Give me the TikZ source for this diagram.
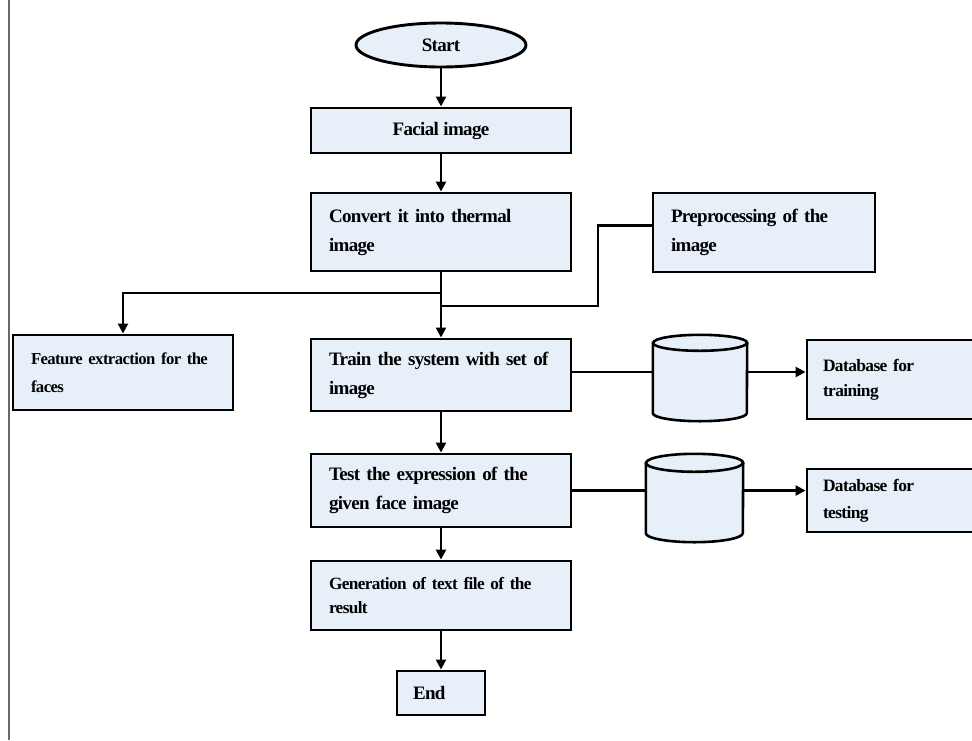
\documentclass[tikz,border=0pt]{standalone}
\usepackage{fontspec}
\setmainfont{Liberation Serif}[LetterSpace=-3.5,WordSpace=0.6]
\usetikzlibrary{shapes.geometric,arrows.meta,calc}
\definecolor{boxfill}{RGB}{231,240,249}
\definecolor{edgegray}{RGB}{105,105,105}
\begin{document}
\begin{tikzpicture}[x=1pt,y=1pt,
  mainfont/.style={font=\fontsize{19}{29}\selectfont\bfseries},
  smallfont/.style={font=\fontsize{17.4}{25}\selectfont\bfseries},
  box/.style={draw=black,line width=2.9pt,fill=boxfill,rectangle,inner sep=0pt,inner xsep=18pt,align=left},
  mainbox/.style={box,mainfont,text width=224pt},
  cylbox/.style={rectangle,draw=none,inner sep=0pt},
  cylline/.style={draw=black,line width=2.6pt,fill=boxfill},
  plain/.style={line width=2.4pt},
  conn/.style={line width=2.4pt,-{Triangle[length=10pt,width=10pt]}}
]
\path[use as bounding box,clip] (0,0) rectangle (972,-740);
\fill[white] (0,0) rectangle (972,-740);
\draw[edgegray,line width=1.5pt] (9,0) -- (9,-740);

% nodes
\node[ellipse,draw=black,line width=2.9pt,fill=boxfill,minimum width=170pt,minimum height=44pt,inner sep=0pt,mainfont] (start) at (441,-45) {Start};
\node[mainbox,align=center,minimum height=45pt] (facial) at (441,-130.5) {Facial\hspace{4.5pt}image};
\node[mainbox,minimum height=78pt] (convert) at (441,-232) {\mbox{Convert it into thermal}\\image};
\node[box,mainfont,text width=186pt,minimum height=79pt] (preproc) at (764,-232.5) {\mbox{Preprocessing of the}\\image};
\node[box,font=\fontsize{16.7}{28}\selectfont\bfseries,text width=184pt,minimum height=75pt] (feature) at (123,-372.5) {\mbox{Feature extraction for the}\\faces};
\node[mainbox,minimum height=72pt] (train) at (441,-375) {\mbox{Train the system with set of}\\image};
\node[cylbox,minimum width=94pt,minimum height=86pt] (cyl1) at (700,-378) {};
\node[box,smallfont,inner xsep=16pt,text width=141pt,minimum height=79pt] (dbtrain) at (893.5,-379.5) {\mbox{Database for}\\training};
\node[mainbox,minimum height=73pt] (test) at (441,-490.5) {\mbox{Test the expression of the}\\given face image};
\node[cylbox,minimum width=97pt,minimum height=88pt] (cyl2) at (694.5,-498) {};
\node[box,font=\fontsize{17.4}{27}\selectfont\bfseries,inner xsep=16pt,text width=141pt,minimum height=63pt] (dbtest) at (893.5,-500.5) {\mbox{Database for}\\testing};
\node[box,font=\fontsize{17.2}{24}\selectfont\bfseries,text width=224pt,minimum height=69pt] (gen) at (441,-595.5) {\mbox{Generation of text file of the}\\result};
\node[box,mainfont,inner xsep=16pt,text width=56pt,minimum height=44pt] (end) at (441,-693) {End};

% cylinders
\draw[cylline] ([yshift=-8pt]cyl1.north west) -- ([yshift=8pt]cyl1.south west)
  arc[start angle=180,end angle=360,x radius=47pt,y radius=8pt]
  -- ([yshift=-8pt]cyl1.north east)
  arc[start angle=0,end angle=180,x radius=47pt,y radius=8pt] -- cycle;
\draw[line width=2.6pt] ([yshift=-8pt]cyl1.north west) arc[start angle=180,end angle=360,x radius=47pt,y radius=8pt];
\draw[cylline] ([yshift=-9pt]cyl2.north west) -- ([yshift=9pt]cyl2.south west)
  arc[start angle=180,end angle=360,x radius=48.5pt,y radius=9pt]
  -- ([yshift=-9pt]cyl2.north east)
  arc[start angle=0,end angle=180,x radius=48.5pt,y radius=9pt] -- cycle;
\draw[line width=2.6pt] ([yshift=-9pt]cyl2.north west) arc[start angle=180,end angle=360,x radius=48.5pt,y radius=9pt];

% junctions
\coordinate (j1) at (441,-293);
\coordinate (j2) at (441,-306);
\coordinate (pbend) at (598,-306);

% connectors
\draw[conn] (start.south) -- (facial.north);
\draw[conn] (facial.south) -- (convert.north);
\draw[conn] (convert.south) -- (train.north);
\draw[conn] (j1) -| (feature.north);
\draw[plain] ([yshift=7pt]preproc.west) -| (pbend) -- (j2);
\draw[plain] ([yshift=3pt]train.east) -- ([yshift=3pt]train.east -| cyl1.west);
\draw[conn] ([yshift=3pt]train.east -| cyl1.east) -- ([yshift=3pt]train.east -| dbtrain.west);
\draw[conn] (train.south) -- (test.north);
\draw[plain] (test.east) -- (test.east -| cyl2.west);
\draw[conn] (test.east -| cyl2.east) -- (test.east -| dbtest.west);
\draw[conn] (test.south) -- (gen.north);
\draw[conn] (gen.south) -- (end.north);
\end{tikzpicture}
\end{document}
